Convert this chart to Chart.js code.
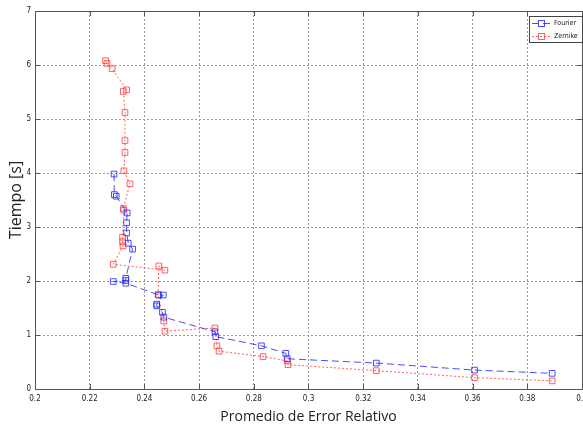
<!DOCTYPE html>
<html><head><meta charset="utf-8">
<script src="https://cdn.jsdelivr.net/npm/chart.js@4.4.1/dist/chart.umd.min.js"></script>
<style>
html,body{margin:0;padding:0;overflow:hidden;background:#fff;width:583px;height:430px}
#wrap{width:600px;height:430px;position:relative}
</style></head><body>
<div id="wrap"><canvas id="c" width="600" height="430"></canvas></div>
<script>
const seriesNames = ['Fourier', 'Zernike'];
const fourierX = [0.2289, 0.2290, 0.2297, 0.2337, 0.2335, 0.2335, 0.2341, 0.2357, 0.2332, 0.2332, 0.2286, 0.2332, 0.2452, 0.2469, 0.2445, 0.2445, 0.2466, 0.2471, 0.2658, 0.2661, 0.2828, 0.2917, 0.2922, 0.3248, 0.3607, 0.3891];
const fourierY = [3.98, 3.60, 3.57, 3.26, 3.08, 2.89, 2.70, 2.59, 2.05, 2.01, 1.99, 1.96, 1.74, 1.74, 1.57, 1.54, 1.42, 1.33, 1.06, 0.97, 0.80, 0.66, 0.56, 0.48, 0.35, 0.29];
const zernikeX = [0.2258, 0.2263, 0.2282, 0.2335, 0.2323, 0.2329, 0.2329, 0.2329, 0.2325, 0.2347, 0.2323, 0.2325, 0.2320, 0.2320, 0.2322, 0.2286, 0.2475, 0.2453, 0.2450, 0.2471, 0.2475, 0.2658, 0.2665, 0.2673, 0.2834, 0.2923, 0.2925, 0.3248, 0.3607, 0.3891];
const zernikeY = [6.08, 6.03, 5.93, 5.54, 5.51, 5.12, 4.60, 4.38, 4.04, 3.80, 3.34, 3.31, 2.81, 2.73, 2.65, 2.31, 2.20, 2.28, 1.75, 1.26, 1.07, 1.13, 0.80, 0.70, 0.60, 0.52, 0.45, 0.34, 0.21, 0.15];
const xTickValues = [0.2, 0.22, 0.24, 0.26, 0.28, 0.3, 0.32, 0.34, 0.36, 0.38, 0.4];
const xTickLabels = ['0.2', '0.22', '0.24', '0.26', '0.28', '0.3', '0.32', '0.34', '0.36', '0.38', '0.4'];
const yTickValues = [0, 1, 2, 3, 4, 5, 6, 7];
const yTickLabels = ['0', '1', '2', '3', '4', '5', '6', '7'];
const xTitle = 'Promedio de Error Relativo';
const yTitle = 'Tiempo [s]';

const BLUE = 'rgba(45,45,255,0.85)';
const RED = 'rgba(255,70,70,0.85)';
const tickFont = {family: '"Liberation Sans Narrow","DejaVu Sans Condensed","Liberation Sans",sans-serif', size: 8};

function pts(xs, ys) { return xs.map((v, i) => ({x: v, y: ys[i]})); }

const framePlugin = {
  id: 'frame',
  afterDraw(chart) {
    const {ctx, chartArea: a, scales: {x, y}} = chart;
    ctx.save();
    ctx.strokeStyle = '#555';
    ctx.lineWidth = 1;
    ctx.setLineDash([]);
    ctx.strokeRect(Math.round(a.left) + 0.5, Math.round(a.top) + 0.5, Math.round(a.right - a.left), Math.round(a.bottom - a.top));
    ctx.beginPath();
    xTickValues.forEach(v => {
      const px = Math.round(x.getPixelForValue(v)) + 0.5;
      ctx.moveTo(px, a.bottom); ctx.lineTo(px, a.bottom - 5);
      ctx.moveTo(px, a.top); ctx.lineTo(px, a.top + 5);
    });
    yTickValues.forEach(v => {
      const py = Math.round(y.getPixelForValue(v)) + 0.5;
      ctx.moveTo(a.left, py); ctx.lineTo(a.left + 5, py);
      ctx.moveTo(a.right, py); ctx.lineTo(a.right - 5, py);
    });
    ctx.stroke();
    // legend box
    const lx = 529.5, ly = 16.5, lw = 53, lh = 26;
    ctx.fillStyle = '#fff';
    ctx.fillRect(lx, ly, lw, lh);
    ctx.strokeStyle = '#444';
    ctx.strokeRect(lx, ly, lw, lh);
    chart.data.datasets.forEach((ds, i) => {
      const cy = 23.5 + i * 13;
      ctx.strokeStyle = ds.borderColor;
      ctx.setLineDash(ds.borderDash);
      ctx.beginPath(); ctx.moveTo(532, cy); ctx.lineTo(551, cy); ctx.stroke();
      ctx.setLineDash([]);
      ctx.strokeRect(538.5, cy - 3, 6, 6);
      ctx.fillStyle = '#222';
      ctx.font = '7px "Liberation Sans Narrow","DejaVu Sans Condensed",sans-serif';
      ctx.textBaseline = 'middle';
      ctx.textAlign = 'left';
      ctx.fillText(ds.label, 554, cy);
    });
    ctx.restore();
  }
};

new Chart(document.getElementById('c'), {
  type: 'scatter',
  data: {
    datasets: [
      {label: seriesNames[0], data: pts(fourierX, fourierY), showLine: true, borderColor: BLUE, borderWidth: 1, borderDash: [7, 4],
       pointStyle: 'rect', pointRadius: 4, pointBorderColor: BLUE, pointBackgroundColor: 'rgba(0,0,0,0)', pointBorderWidth: 1},
      {label: seriesNames[1], data: pts(zernikeX, zernikeY), showLine: true, borderColor: RED, borderWidth: 1, borderDash: [2, 2],
       pointStyle: 'rect', pointRadius: 4, pointBorderColor: RED, pointBackgroundColor: 'rgba(0,0,0,0)', pointBorderWidth: 1}
    ]
  },
  options: {
    responsive: false,
    animation: false,
    layout: {padding: {top: 11, right: 18, left: 0, bottom: 0}},
    plugins: {legend: {display: false}, tooltip: {enabled: false}},
    scales: {
      x: {
        type: 'linear', min: 0.2, max: 0.4,
        afterBuildTicks: s => { s.ticks = xTickValues.map(v => ({value: v})); },
        afterFit: s => { s.height = 41; },
        ticks: {font: tickFont, color: '#222', padding: 5, maxRotation: 0, autoSkip: false,
          callback: (v) => { const i = xTickValues.findIndex(t => Math.abs(t - v) < 1e-9); return i >= 0 ? xTickLabels[i] : ''; }},
        grid: {color: '#9a9a9a', lineWidth: 1, drawTicks: false},
        border: {display: false, dash: [2, 2]},
        title: {display: true, text: xTitle, color: '#222', font: {family: '"Open Sans",sans-serif', size: 14}, padding: {top: 0, bottom: 5}}
      },
      y: {
        type: 'linear', min: 0, max: 7,
        afterBuildTicks: s => { s.ticks = yTickValues.map(v => ({value: v})); },
        afterFit: s => { s.width = 35; },
        ticks: {font: tickFont, color: '#222', padding: 4, autoSkip: false,
          callback: (v) => { const i = yTickValues.indexOf(v); return i >= 0 ? yTickLabels[i] : ''; }},
        grid: {color: '#9a9a9a', lineWidth: 1, drawTicks: false},
        border: {display: false, dash: [2, 2]},
        title: {display: true, text: yTitle, color: '#222', font: {family: '"Open Sans",sans-serif', size: 16}, padding: {top: 7, bottom: 0}}
      }
    }
  },
  plugins: [framePlugin]
});
</script>
</body></html>
